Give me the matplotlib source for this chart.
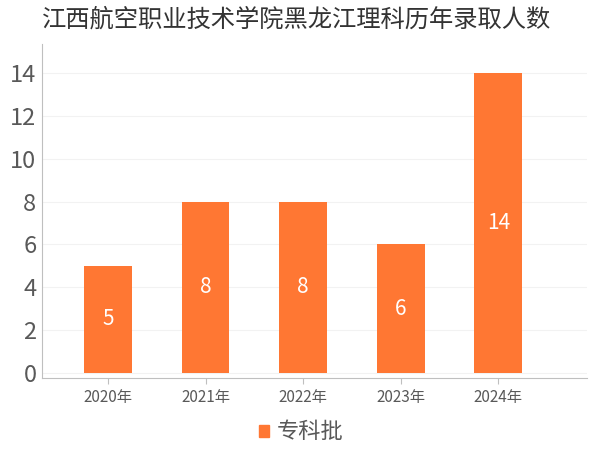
import matplotlib.pyplot as plt
from matplotlib.patches import Patch

plt.rcParams['font.family'] = ['Noto Sans CJK SC', 'DejaVu Sans']

years = ['2020年', '2021年', '2022年', '2023年', '2024年']
counts = [5, 8, 8, 6, 14]
series_name = '专科批'
title = '江西航空职业技术学院黑龙江理科历年录取人数'

bar_color = '#FF7733'
text_color = '#595959'

fig = plt.figure(figsize=(6, 4.5), dpi=100)
ax = fig.add_axes([42/600, 1-378/450, 545/600, 334/450])

x = list(range(len(years)))
ax.bar(x, counts, width=0.49, color=bar_color, zorder=3)
for xi, v in zip(x, counts):
    ax.text(xi, v/2, str(v), ha='center', va='center', color='white', fontsize=15, zorder=4)

ax.set_xlim(-0.677, 4.91)
ax.set_ylim(-0.23, 15.35)
ax.set_xticks(x)
ax.set_xticklabels(years, fontsize=11, color=text_color)
ax.set_yticks(range(0, 15, 2))
ax.set_yticklabels([str(v) for v in range(0, 15, 2)], fontsize=17, color=text_color)
ax.tick_params(axis='y', length=0, pad=4)
ax.tick_params(axis='x', length=4, color='#bfbfbf', pad=4)
ax.grid(axis='y', color='#f2f2f2', linewidth=0.8, zorder=0)

for s in ['top', 'right']:
    ax.spines[s].set_visible(False)
ax.spines['left'].set_color('#bfbfbf')
ax.spines['bottom'].set_color('#bfbfbf')

fig.suptitle(title, fontsize=17.5, color='#333333', y=0.985, x=0.495)

fig.legend(handles=[Patch(color=bar_color, label=series_name)], loc='center',
           bbox_to_anchor=(0.502, 1-432/450), frameon=False, fontsize=16,
           handlelength=0.45, handleheight=0.45, handletextpad=0.35, labelcolor=text_color)

fig.savefig('out.png', dpi=100)
